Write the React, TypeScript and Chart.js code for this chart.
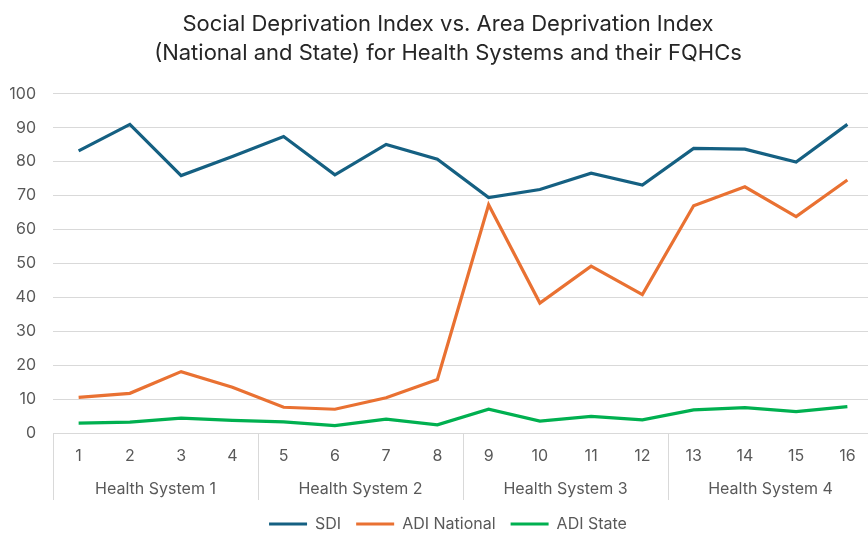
import React, { useEffect, useRef } from "react";
import { Chart, registerables } from "chart.js";

Chart.register(...registerables);

const categories = ["1", "2", "3", "4", "5", "6", "7", "8", "9", "10", "11", "12", "13", "14", "15", "16"];
const groups = ["Health System 1", "Health System 2", "Health System 3", "Health System 4"];
const groupSize = 4;
const sdi = [83.2, 91, 75.9, 81.5, 87.4, 76.1, 85.1, 80.7, 69.4, 71.8, 76.6, 73.1, 83.9, 83.7, 79.9, 91];
const adiNational = [10.5, 11.7, 18.1, 13.5, 7.6, 7.0, 10.4, 15.8, 67.3, 38.3, 49.2, 40.8, 67.0, 72.6, 63.8, 74.6];
const adiState = [2.9, 3.2, 4.4, 3.7, 3.3, 2.2, 4.1, 2.4, 7.0, 3.5, 4.9, 3.9, 6.8, 7.5, 6.3, 7.8];
const yTicks = [0, 10, 20, 30, 40, 50, 60, 70, 80, 90, 100];
const titleLines = [
  "Social Deprivation Index vs. Area Deprivation Index",
  "(National and State) for Health Systems and their FQHCs",
];

const FONT = "Inter, 'Open Sans', sans-serif";
const TEXT = "#595959";
const GRID = "#d9d9d9";

const groupPlugin = {
  id: "groupAxis",
  afterDraw(chart: any) {
    const x = chart.scales.x;
    const ctx = chart.ctx;
    const area = chart.chartArea;
    const n = categories.length;
    const step = (x.getPixelForTick(n - 1) - x.getPixelForTick(0)) / (n - 1);
    ctx.save();
    ctx.strokeStyle = GRID;
    ctx.lineWidth = 1;
    const top = area.bottom;
    const bottom = area.bottom + 67;
    for (let g = 0; g <= groups.length; g++) {
      const px = Math.round(x.getPixelForTick(0) - step / 2 + g * groupSize * step) + 0.5;
      ctx.beginPath();
      ctx.moveTo(px, top);
      ctx.lineTo(px, bottom);
      ctx.stroke();
    }
    ctx.fillStyle = TEXT;
    ctx.font = `16px ${FONT}`;
    ctx.textAlign = "center";
    ctx.textBaseline = "middle";
    groups.forEach((g, i) => {
      const a = x.getPixelForTick(i * groupSize) - step / 2;
      const b = x.getPixelForTick(i * groupSize + groupSize - 1) + step / 2;
      ctx.fillText(g, (a + b) / 2, area.bottom + 56);
    });
    ctx.restore();
  },
};

export default function App() {
  const ref = useRef<HTMLCanvasElement>(null);
  useEffect(() => {
    if (!ref.current) return;
    const chart = new Chart(ref.current, {
      type: "line",
      data: {
        labels: categories,
        datasets: [
          { label: "SDI", data: sdi, borderColor: "#156082", backgroundColor: "#156082", borderWidth: 3.2, pointRadius: 0, tension: 0 },
          { label: "ADI National", data: adiNational, borderColor: "#E97132", backgroundColor: "#E97132", borderWidth: 3.2, pointRadius: 0, tension: 0 },
          { label: "ADI State", data: adiState, borderColor: "#00B050", backgroundColor: "#00B050", borderWidth: 3.2, pointRadius: 0, tension: 0 },
        ],
      },
      options: {
        animation: false,
        responsive: false,
        maintainAspectRatio: false,
        layout: { padding: { left: 23, right: 23, top: 0, bottom: 0 } },
        plugins: {
          title: {
            display: true,
            text: titleLines,
            color: "#262626",
            font: { family: FONT, size: 22, weight: "normal", lineHeight: 1.36 },
            padding: { top: 9, bottom: 25 },
          },
          legend: {
            position: "bottom",
            labels: {
              usePointStyle: true,
              pointStyle: "line",
              pointStyleWidth: 38,
              color: TEXT,
              font: { family: FONT, size: 16 },
              padding: 15,
            },
          },
          tooltip: { enabled: false },
        },
        scales: {
          x: {
            type: "category",
            offset: true,
            grid: { display: false, drawTicks: false },
            border: { display: false },
            ticks: { color: TEXT, font: { family: FONT, size: 16 }, padding: 14, maxRotation: 0, autoSkip: false },
            afterFit: (s: any) => { s.height = 68; },
          },
          y: {
            min: 0,
            max: 100,
            afterBuildTicks: (s: any) => { s.ticks = yTicks.map((v) => ({ value: v })); },
            grid: { color: GRID, lineWidth: 1, drawTicks: false },
            border: { display: false },
            ticks: { color: TEXT, font: { family: FONT, size: 16 }, padding: 17 },
            afterFit: (s: any) => {
              s.width = 30;
              s._computeLabelArea = () => null;
            },
          },
        },
      },
      plugins: [groupPlugin],
    });
    return () => chart.destroy();
  }, []);
  return (
    <div style={{ position: "fixed", left: 0, top: 0, width: 868, height: 533, overflow: "hidden", background: "#fff" }}>
      <canvas ref={ref} width={896} height={542} style={{ width: 896, height: 542, display: "block" }} />
    </div>
  );
}
